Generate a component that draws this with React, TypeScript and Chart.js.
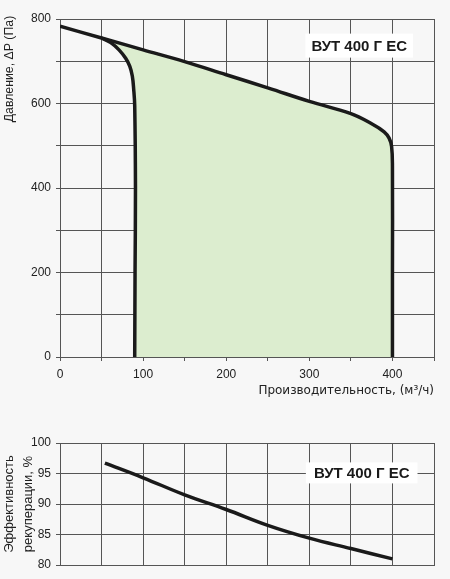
import React, { useEffect, useRef } from "react";
import Chart from "chart.js/auto";

// Air flow, m3/h
const flowMin = 0;
const flowMax = 450;
const flowStep = 50;
const flowLabels = [0, 100, 200, 300, 400];

// Pressure, Pa
const pressureMin = 0;
const pressureMax = 800;
const pressureStep = 100;
const pressureLabels = [0, 200, 400, 600, 800];

// Max fan curve (top + right edge)
const maxCurveX = [0, 50, 100, 150, 200, 250, 300, 350, 375, 390, 396, 399, 400, 400, 400];
const maxCurveY = [783, 755, 727, 699, 668, 637, 605, 576, 552, 533, 518, 498, 450, 200, 0];

// Min fan curve (left edge)
const minCurveX = [50, 61, 71, 79, 84, 87, 88.7, 89.9, 90.8, 90.3, 89.9];
const minCurveY = [755, 744, 727, 707, 688, 665, 633, 594, 400, 200, 0];

// Heat recovery efficiency, %
const effMin = 80;
const effMax = 100;
const effStep = 2.5;
const effLabels = [80, 85, 90, 95, 100];
const effX = [54, 100, 150, 200, 250, 300, 350, 400];
const effY = [96.7, 94.3, 91.5, 89.1, 86.5, 84.4, 82.7, 81.0];

const modelName = "ВУТ 400 Г ЕС";
const pressureTitle = "Давление, ΔP (Па)";
const flowTitle = "Производительность, (м³/ч)";
const effTitle = ["Эффективность", "рекуперации, %"];

const FONT = "'Liberation Sans', Arial, sans-serif";
const WIDE_FONT = "'DejaVu Sans', Verdana, sans-serif";
const BG = "#f7f7f7";
const GRID = "#555555";
const LINE = "#1a1a1a";
const FILL = "#dcedcf";
const TEXT = "#222222";

Chart.defaults.font.family = FONT;
Chart.defaults.font.size = 12;
Chart.defaults.color = TEXT;

const zip = (xs: number[], ys: number[]) => xs.map((x, i) => ({ x, y: ys[i] }));

const labelBox = {
	id: "labelBox",
	afterDatasetsDraw(chart: any, _args: any, opts: any) {
		const { ctx, scales } = chart;
		const cx = scales.x.getPixelForValue(opts.x);
		const cy = scales.y.getPixelForValue(opts.y);
		ctx.save();
		ctx.font = `bold 15px ${FONT}`;
		const w = ctx.measureText(opts.text).width + opts.padX * 2;
		ctx.fillStyle = "#ffffff";
		ctx.fillRect(cx - w / 2, cy - opts.h / 2, w, opts.h);
		ctx.fillStyle = LINE;
		ctx.textAlign = "center";
		ctx.textBaseline = "middle";
		ctx.fillText(opts.text, cx, cy + 1);
		ctx.restore();
	},
};

// y title near the top of the axis, not centred
const sideTitle = {
	id: "sideTitle",
	afterDraw(chart: any, _args: any, opts: any) {
		const { ctx, chartArea } = chart;
		ctx.save();
		ctx.translate(opts.x, chartArea.top + opts.offset);
		ctx.rotate(-Math.PI / 2);
		ctx.font = `12.3px ${FONT}`;
		ctx.fillStyle = TEXT;
		ctx.textAlign = "center";
		ctx.textBaseline = "middle";
		ctx.fillText(opts.text, 0, 0);
		ctx.restore();
	},
};

const gridOpts = { color: GRID, lineWidth: 1, tickLength: 4 };

function pressureConfig(): any {
	const upper = zip(maxCurveX, maxCurveY);
	const lower = zip(minCurveX, minCurveY);
	const start = maxCurveX.indexOf(50);
	const area = [...upper.slice(start), ...lower.slice().reverse()];
	return {
		type: "line",
		data: {
			datasets: [
				{ data: upper, borderColor: LINE, borderWidth: 3.5, pointRadius: 0, tension: 0.4, fill: false, order: 0 },
				{ data: lower, borderColor: LINE, borderWidth: 3.5, pointRadius: 0, tension: 0.4, fill: false, order: 0 },
				{ data: area, borderColor: "transparent", borderWidth: 0, backgroundColor: FILL, pointRadius: 0, tension: 0, fill: "shape", order: 5 },
			],
		},
		options: {
			animation: false,
			responsive: true,
			maintainAspectRatio: false,
			layout: { padding: { top: 19, right: 16, left: 0, bottom: 0 } },
			plugins: {
				legend: { display: false },
				tooltip: { enabled: false },
				filler: { drawTime: "beforeDatasetsDraw" },
				labelBox: { text: modelName, x: 360, y: 737, padX: 6, h: 24 },
				sideTitle: { text: pressureTitle, x: 10, offset: 50 },
			},
			scales: {
				x: {
					type: "linear",
					min: flowMin,
					max: flowMax,
					grid: gridOpts,
					border: { color: GRID },
					ticks: {
						stepSize: flowStep,
						autoSkip: false,
						maxRotation: 0,
						padding: 6,
						callback: (v: number) => (flowLabels.includes(v) ? v : ""),
					},
					title: {
						display: true,
						text: flowTitle,
						align: "end",
						font: { family: WIDE_FONT, size: 12 },
						padding: { top: 0, bottom: 22 },
					},
					afterFit: (s: any) => {
						s.height = 63;
					},
				},
				y: {
					type: "linear",
					min: pressureMin,
					max: pressureMax,
					grid: gridOpts,
					border: { color: GRID },
					ticks: {
						stepSize: pressureStep,
						padding: 5,
						callback: (v: number) => (pressureLabels.includes(v) ? v : ""),
					},
					afterFit: (s: any) => {
						s.width = 60;
					},
				},
			},
		},
		plugins: [labelBox, sideTitle],
	};
}

function efficiencyConfig(): any {
	return {
		type: "line",
		data: {
			datasets: [
				{ data: zip(effX, effY), borderColor: LINE, borderWidth: 3.5, pointRadius: 0, tension: 0.4, fill: false },
			],
		},
		options: {
			animation: false,
			responsive: true,
			maintainAspectRatio: false,
			layout: { padding: { top: 23, right: 16, left: 0, bottom: 0 } },
			plugins: {
				legend: { display: false },
				tooltip: { enabled: false },
				labelBox: { text: modelName, x: 363, y: 95.1, padX: 8, h: 21 },
			},
			scales: {
				x: {
					type: "linear",
					min: flowMin,
					max: flowMax,
					grid: { ...gridOpts, tickLength: 0 },
					border: { color: GRID },
					ticks: { display: false, stepSize: flowStep },
					afterFit: (s: any) => {
						s.height = 14;
					},
				},
				y: {
					type: "linear",
					min: effMin,
					max: effMax,
					grid: gridOpts,
					border: { color: GRID },
					ticks: {
						stepSize: effStep,
						padding: 5,
						callback: (v: number) => (effLabels.includes(v) ? v : ""),
					},
					title: { display: true, text: effTitle, font: { size: 13, lineHeight: "19px" }, padding: 0 },
					afterFit: (s: any) => {
						s.width = 60;
					},
				},
			},
		},
		plugins: [labelBox],
	};
}

const ChartBox: React.FC<{ height: number; make: () => any }> = ({ height, make }) => {
	const canvasRef = useRef<HTMLCanvasElement>(null);

	useEffect(() => {
		if (!canvasRef.current) return;
		const chart = new Chart(canvasRef.current, make());
		return () => chart.destroy();
	}, []);

	return (
		<div style={{ position: "relative", width: 450, height }}>
			<canvas ref={canvasRef} />
		</div>
	);
};

const App: React.FC = () => {
	useEffect(() => {
		document.body.style.margin = "0";
		document.body.style.background = BG;
	}, []);

	return (
		<div style={{ width: 450, height: 579, background: BG }}>
			<ChartBox height={420} make={pressureConfig} />
			<ChartBox height={159} make={efficiencyConfig} />
		</div>
	);
};

export default App;
